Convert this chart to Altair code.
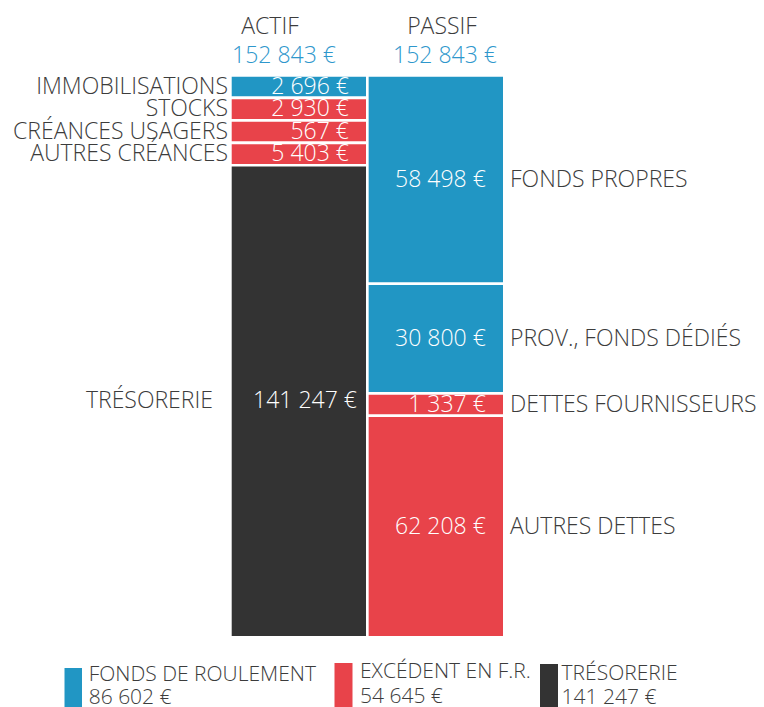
import altair as alt
import pandas as pd

# ---- data ----
columns = ["ACTIF", "ACTIF", "ACTIF", "ACTIF", "ACTIF", "PASSIF", "PASSIF", "PASSIF", "PASSIF"]
categories = ["IMMOBILISATIONS", "STOCKS", "CRÉANCES USAGERS", "AUTRES CRÉANCES", "TRÉSORERIE",
              "FONDS PROPRES", "PROV., FONDS DÉDIÉS", "DETTES FOURNISSEURS", "AUTRES DETTES"]
values = [2696, 2930, 567, 5403, 141247, 58498, 30800, 1337, 62208]
groups = ["fr", "bfr", "bfr", "bfr", "treso", "fr", "fr", "bfr", "bfr"]

legend_labels = ["FONDS DE ROULEMENT", "EXCÉDENT EN F.R.", "TRÉSORERIE"]
legend_values = [86602, 54645, 141247]
legend_groups = ["fr", "bfr", "treso"]

group_domain = ["fr", "bfr", "treso"]
group_colors = ["#2196C4", "#E8434A", "#333333"]
color_of = dict(zip(group_domain, group_colors))

FONT = "Open Sans"
FW = 300
FS = 23
TEXT_GREY = "#3C3C3C"
TOTAL_BLUE = "#2E97CC"
MIN_SHARE = 0.04  # minimum displayed share of a segment


def fmt(v):
    return f"{v:,}".replace(",", " ") + " €"


# ---- layout of the stacked columns (min display height for tiny segments) ----
rows = []
for col in ["ACTIF", "PASSIF"]:
    idx = [i for i, c in enumerate(columns) if c == col]
    total = sum(values[i] for i in idx)
    small = [i for i in idx if values[i] / total < MIN_SHARE]
    big = [i for i in idx if i not in small]
    big_total = sum(values[i] for i in big)
    rest = 1 - MIN_SHARE * len(small)
    y = 0.0
    for i in idx:
        share = MIN_SHARE if i in small else values[i] / big_total * rest
        rows.append(dict(col=col, cat=categories[i], value=values[i], group=groups[i],
                         label=fmt(values[i]), y0=y, y1=y + share, mid=y + share / 2))
        y += share
df = pd.DataFrame(rows)

totals = {c: sum(v for v, cc in zip(values, columns) if cc == c) for c in ["ACTIF", "PASSIF"]}

xscale = alt.Scale(domain=["ACTIF", "PASSIF"], range=[222.4, 496.3], paddingInner=0, paddingOuter=0)
yscale = alt.Scale(domain=[0, 1], range=[67.4, 629.3], nice=False, zero=False)

base = alt.Chart(df)

bars = base.mark_bar(stroke="white", strokeWidth=2.6).encode(
    x=alt.X("col:N", scale=xscale, axis=None),
    y=alt.Y("y0:Q", scale=yscale, axis=None),
    y2="y1:Q",
    color=alt.Color("group:N", scale=alt.Scale(domain=group_domain, range=group_colors), legend=None),
)

txt = dict(baseline="middle", fontSize=FS, font=FONT, fontWeight=FW)

value_text = base.transform_filter(alt.datum.group != "treso").mark_text(
    align="right", dx=50, color="white", **txt).encode(
    x=alt.X("col:N", scale=xscale, axis=None),
    y=alt.Y("mid:Q", scale=yscale, axis=None),
    text="label:N",
)
value_text_treso = base.transform_filter(alt.datum.group == "treso").mark_text(
    align="right", dx=58, color="white", **txt).encode(
    x=alt.X("col:N", scale=xscale, axis=None),
    y=alt.Y("mid:Q", scale=yscale, axis=None),
    text="label:N",
)

left_text = base.transform_filter((alt.datum.col == "ACTIF") & (alt.datum.group != "treso")).mark_text(
    align="right", color=TEXT_GREY, **txt
).encode(x=alt.value(220), y=alt.Y("mid:Q", scale=yscale, axis=None), text="cat:N")

left_text_treso = base.transform_filter((alt.datum.col == "ACTIF") & (alt.datum.group == "treso")).mark_text(
    align="right", color=TEXT_GREY, **txt
).encode(x=alt.value(205), y=alt.Y("mid:Q", scale=yscale, axis=None), text="cat:N")

right_text = base.transform_filter(alt.datum.col == "PASSIF").mark_text(
    align="left", color=TEXT_GREY, **txt
).encode(x=alt.value(502), y=alt.Y("mid:Q", scale=yscale, axis=None), text="cat:N")

layers = [bars, value_text, value_text_treso, left_text, left_text_treso, right_text]

# headers
header_pos = {"ACTIF": (262, 276), "PASSIF": (434, 437)}
for col in ["ACTIF", "PASSIF"]:
    hdf = pd.DataFrame({"title": [col], "total": [fmt(totals[col])]})
    hx, tx = header_pos[col]
    layers.append(alt.Chart(hdf).mark_text(align="center", color=TEXT_GREY, **txt)
                  .encode(x=alt.value(hx), y=alt.value(19), text="title:N"))
    layers.append(alt.Chart(hdf).mark_text(align="center", color=TOTAL_BLUE, **txt)
                  .encode(x=alt.value(tx), y=alt.value(48), text="total:N"))

# legend
legend_pos = [(56.5, 74, 660, 80.7, 667, 690),
              (326.5, 344.5, 655, 352, 664, 689),
              (532, 550, 656, 553.6, 666, 690)]
ltxt = dict(baseline="middle", fontSize=21, font=FONT, fontWeight=FW)
for lab, val, grp, (x0, x1, ytop, tx, ty1, ty2) in zip(legend_labels, legend_values, legend_groups, legend_pos):
    ldf = pd.DataFrame({"label": [lab], "amount": [fmt(val)]})
    lc = alt.Chart(ldf)
    layers.append(lc.mark_rect(color=color_of[grp]).encode(
        x=alt.value(x0), x2=alt.value(x1), y=alt.value(ytop), y2=alt.value(710)))
    layers.append(lc.mark_text(align="left", color=TEXT_GREY, **ltxt)
                  .encode(x=alt.value(tx), y=alt.value(ty1), text="label:N"))
    layers.append(lc.mark_text(align="left", color=TEXT_GREY, **ltxt)
                  .encode(x=alt.value(tx), y=alt.value(ty2), text="amount:N"))

chart = alt.layer(*layers).properties(
    width=748, height=710, padding=0,
    autosize=alt.AutoSizeParams(type="none"),
).configure_view(stroke=None)

chart.save("out.html", embed_options={"renderer": "svg", "actions": False})
